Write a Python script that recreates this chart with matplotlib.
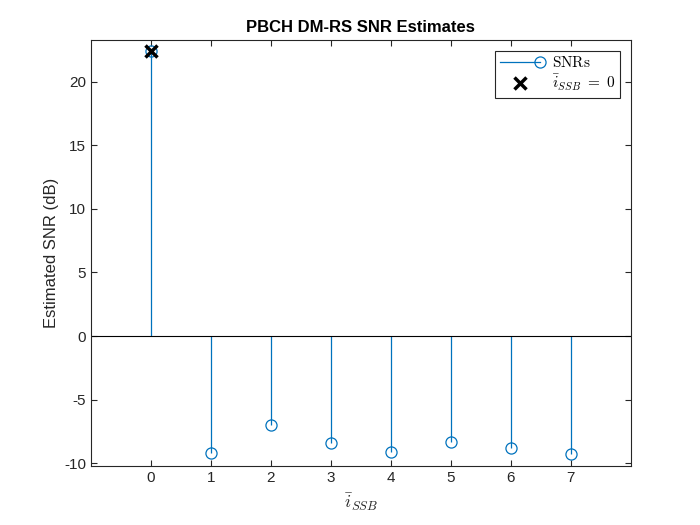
import matplotlib
matplotlib.use("Agg")
import matplotlib.pyplot as plt
from matplotlib.lines import Line2D
from matplotlib.legend_handler import HandlerBase
import numpy as np

ssb_index = [0, 1, 2, 3, 4, 5, 6, 7]
snr_db = [22.4, -9.24, -6.96, -8.45, -9.13, -8.32, -8.79, -9.27]
detected_index = 0
x_ticks = [0, 1, 2, 3, 4, 5, 6, 7]
y_ticks = [-10, -5, 0, 5, 10, 15, 20]

plt.rcParams['font.family'] = ['Liberation Sans', 'DejaVu Sans']
plt.rcParams['mathtext.fontset'] = 'cm'
plt.rcParams['axes.unicode_minus'] = False

blue = '#0072BD'
fig = plt.figure(figsize=(7, 5.25), dpi=100)
ax = fig.add_axes([0.13, 0.112, 0.771, 0.812])

ml, sl, bl = ax.stem(ssb_index, snr_db, basefmt='k-')
plt.setp(sl, color=blue, linewidth=0.9)
plt.setp(ml, markerfacecolor='none', markeredgecolor=blue, markersize=8, markeredgewidth=0.9)
plt.setp(bl, color='black', linewidth=0.8)
bl.set_xdata([-1, 8])

xm, = ax.plot([ssb_index[detected_index]], [snr_db[detected_index]], 'kx', markersize=8,
              markeredgewidth=2.5, linestyle='none')


class StemHandler(HandlerBase):
    def create_artists(self, legend, orig_handle, xdescent, ydescent, width, height, fontsize, trans):
        y = height / 2 - ydescent
        line = Line2D([-xdescent, width - xdescent], [y, y], color=blue, linewidth=0.9)
        mk = Line2D([width - xdescent], [y], marker='o', markersize=8, markerfacecolor='none',
                    markeredgecolor=blue, markeredgewidth=0.9, linestyle='none')
        line.set_transform(trans)
        mk.set_transform(trans)
        return [line, mk]


stem_proxy = Line2D([], [])
leg = ax.legend([stem_proxy, xm], [r'$\mathrm{SNRs}$', r'$\bar{i}_{SSB}\ =\ 0$'],
                handler_map={stem_proxy: StemHandler()},
                loc='upper right', fancybox=False, edgecolor='#262626', framealpha=1,
                fontsize=11, borderaxespad=0.7, handlelength=2.6, borderpad=0.3,
                labelspacing=0.2, handletextpad=0.8)
leg.get_frame().set_linewidth(0.8)

ax.set_xlim(-1, 8)
ax.set_ylim(-10.24, 23.3)
ax.set_xticks(x_ticks)
ax.set_yticks(y_ticks)
ax.tick_params(direction='in', top=True, right=True, labelsize=11, colors='#262626', length=4)
for s in ax.spines.values():
    s.set_color('#262626')
    s.set_linewidth(0.8)

ax.set_title('PBCH DM-RS SNR Estimates', fontsize=12, fontweight='bold', color='black')
ax.set_xlabel(r'$\bar{i}_{SSB}$', fontsize=13, color='#262626')
ax.set_ylabel('Estimated SNR (dB)', fontsize=12, color='#262626')

fig.savefig('out.png', dpi=100)
